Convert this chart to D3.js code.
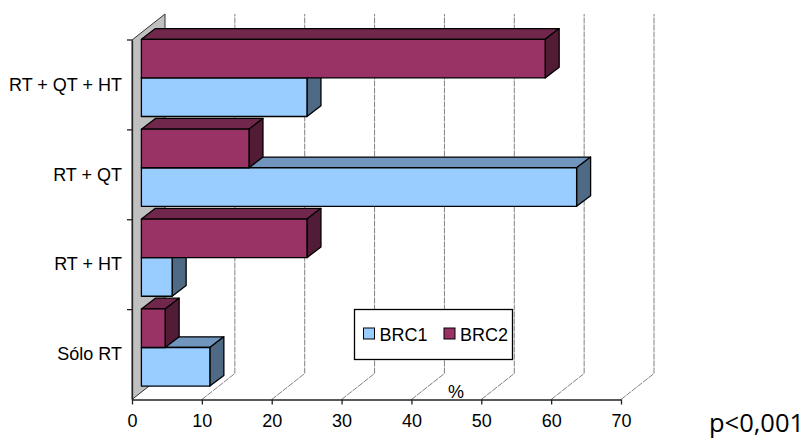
<!DOCTYPE html>
<html>
<head>
<meta charset="utf-8">
<script src="https://cdn.jsdelivr.net/npm/d3@7"></script>
<style>
    html, body { margin: 0; padding: 0; background: #fff; }
    svg { display: block; }
    text { font-family: "Liberation Sans", Arial, sans-serif; fill: #000; }
</style>
</head>
<body>
<svg id="chart" width="807" height="438"></svg>
<script>
// Values, bottom category first
const categories = ["Sólo RT", "RT + HT", "RT + QT", "RT + QT + HT"];
const brc1 = [9.8, 4.4, 62.3, 23.7];
const brc2 = [3.4, 23.7, 15.4, 57.8];
const xTicks = [0, 10, 20, 30, 40, 50, 60, 70];

const svg = d3.select("#chart");

const x = d3.scaleLinear().domain([0, 70]).range([132, 621]);
const y = d3.scaleBand().domain(categories).range([399.5, 40]);

// 3D offsets: wall depth, and where the bars sit inside it
const depthX = 33, depthY = 26;
const barShiftX = 9.4, barShiftY = 13.4;
const barDepthX = 14, barDepthY = 10.7;
const barH = 38.6;
const labelSize = 18;

// Back wall on the left
svg.append("path")
    .attr("d", `M${x(0)},${y.range()[1]}L${x(0) + depthX},${y.range()[1] - depthY}L${x(0) + depthX},${y.range()[0] - depthY}L${x(0)},${y.range()[0]}Z`)
    .attr("fill", "#c0c0c0")
    .attr("stroke", "#333")
    .attr("stroke-width", 1);

// Gridlines: diagonal on the floor, then straight up the back
svg.append("g")
    .selectAll("path")
    .data(xTicks.slice(1))
    .enter().append("path")
    .attr("d", d => `M${x(d)},${y.range()[0]}L${x(d) + depthX},${y.range()[0] - depthY}L${x(d) + depthX},${y.range()[1] - depthY}`)
    .attr("fill", "none")
    .attr("stroke", "#808080")
    .attr("stroke-dasharray", "6 1")
    .attr("stroke-width", 1);

function drawBar(g, cat, value, slot, front, top, side) {
    const x0 = x(0) + barShiftX;
    const x1 = x(value) + barShiftX;
    const yBottom = y(cat) + y.bandwidth() - barShiftY - slot * barH;
    const yTop = yBottom - barH;

    g.append("path")
        .attr("d", `M${x0},${yTop}L${x0 + barDepthX},${yTop - barDepthY}L${x1 + barDepthX},${yTop - barDepthY}L${x1},${yTop}Z`)
        .attr("fill", top);
    g.append("path")
        .attr("d", `M${x1},${yTop}L${x1 + barDepthX},${yTop - barDepthY}L${x1 + barDepthX},${yBottom - barDepthY}L${x1},${yBottom}Z`)
        .attr("fill", side);
    g.append("rect")
        .attr("x", x0)
        .attr("y", yTop)
        .attr("width", x1 - x0)
        .attr("height", barH)
        .attr("fill", front);
    g.selectAll("path, rect")
        .attr("stroke", "#000")
        .attr("stroke-width", 1.3)
        .attr("stroke-linejoin", "round");
}

// Draw from the back (top) category forward so the overlaps come out right
const bars = svg.append("g");
categories.slice().reverse().forEach(cat => {
    const i = categories.indexOf(cat);
    drawBar(bars, cat, brc1[i], 0, "#99ccff", "#7096bd", "#4f6a85");
    drawBar(bars, cat, brc2[i], 1, "#993366", "#71264b", "#521c37");
});

// Value axis
const xAxis = svg.append("g").attr("transform", `translate(0,${y.range()[0]})`)
    .call(d3.axisBottom(x).tickValues(xTicks).tickSize(5).tickSizeOuter(0).tickPadding(10));
xAxis.select(".domain").attr("stroke", "#222").attr("stroke-width", 1.3);
xAxis.selectAll("line").attr("stroke", "#222").attr("stroke-width", 1.3);
xAxis.selectAll("text").attr("font-size", labelSize).style("font-family", '"Liberation Sans", Arial, sans-serif');

// Category axis, ticks sit between categories
const yAxis = svg.append("g").attr("transform", `translate(${x(0)},0)`)
    .call(d3.axisLeft(y).tickSize(0).tickPadding(10));
yAxis.select(".domain").attr("stroke", "#222").attr("stroke-width", 1.3);
yAxis.selectAll("text").attr("font-size", labelSize).style("font-family", '"Liberation Sans", Arial, sans-serif');
svg.append("g")
    .selectAll("line")
    .data(categories)
    .enter().append("line")
    .attr("x1", x(0) - 5)
    .attr("x2", x(0))
    .attr("y1", d => y(d))
    .attr("y2", d => y(d))
    .attr("stroke", "#222")
    .attr("stroke-width", 1.3);

svg.append("text").attr("x", 448).attr("y", 398).attr("font-size", labelSize).text("%");

// Legend
const legend = svg.append("g");
legend.append("rect")
    .attr("x", 354.5).attr("y", 309.5).attr("width", 158).attr("height", 50)
    .attr("fill", "#fff").attr("stroke", "#000").attr("stroke-width", 1.3);
[["BRC1", "#99ccff", 363.5], ["BRC2", "#993366", 444]].forEach(([name, color, lx]) => {
    legend.append("rect")
        .attr("x", lx).attr("y", 328).attr("width", 11).attr("height", 11)
        .attr("fill", color).attr("stroke", "#000").attr("stroke-width", 1);
    legend.append("text").attr("x", lx + 16).attr("y", 340.5).attr("font-size", labelSize).text(name);
});

svg.append("text")
    .attr("x", 709).attr("y", 432)
    .attr("font-size", 25.5)
    .style("font-family", '"Open Sans", sans-serif')
    .text("p<0,001");
</script>
</body>
</html>
